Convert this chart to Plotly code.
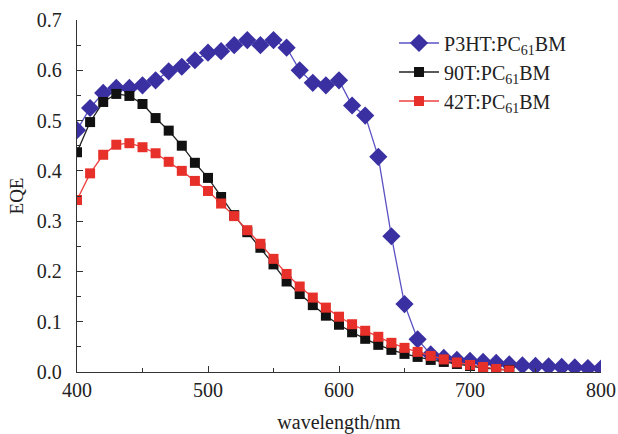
import plotly.graph_objects as go

wl_p3ht = list(range(400, 801, 10))
eqe_p3ht = [0.481, 0.525, 0.555, 0.565, 0.565, 0.57, 0.58, 0.598, 0.607, 0.62, 0.635,
            0.638, 0.65, 0.66, 0.65, 0.66, 0.645, 0.60, 0.575, 0.57, 0.58, 0.53, 0.51,
            0.428, 0.27, 0.135, 0.065, 0.035, 0.028, 0.024, 0.022, 0.02, 0.018, 0.015,
            0.013, 0.012, 0.011, 0.01, 0.009, 0.008, 0.007]

wl_90t = list(range(400, 731, 10))
eqe_90t = [0.437, 0.497, 0.537, 0.553, 0.549, 0.533, 0.505, 0.48, 0.45, 0.416, 0.386,
           0.348, 0.312, 0.278, 0.247, 0.214, 0.18, 0.155, 0.133, 0.112, 0.094, 0.079,
           0.066, 0.054, 0.044, 0.036, 0.03, 0.024, 0.02, 0.016, 0.012, 0.008, 0.006, 0.004]

wl_42t = list(range(400, 731, 10))
eqe_42t = [0.342, 0.395, 0.432, 0.452, 0.455, 0.447, 0.435, 0.418, 0.40, 0.38, 0.36,
           0.335, 0.31, 0.282, 0.255, 0.225, 0.195, 0.17, 0.148, 0.128, 0.11, 0.095,
           0.082, 0.07, 0.058, 0.048, 0.04, 0.032, 0.025, 0.019, 0.014, 0.01, 0.006, 0.003]

names = ["P3HT:PC<sub>61</sub>BM", "90T:PC<sub>61</sub>BM", "42T:PC<sub>61</sub>BM"]

fig = go.Figure()
fig.add_trace(go.Scatter(x=wl_p3ht, y=eqe_p3ht, name=names[0], mode="lines+markers",
                         line=dict(color="#5a52c4", width=1.3),
                         marker=dict(symbol="diamond", size=14, color="#3a30a2")))
fig.add_trace(go.Scatter(x=wl_90t, y=eqe_90t, name=names[1], mode="lines+markers",
                         line=dict(color="#222222", width=1.3),
                         marker=dict(symbol="square", size=10, color="#111111")))
fig.add_trace(go.Scatter(x=wl_42t, y=eqe_42t, name=names[2], mode="lines+markers",
                         line=dict(color="#ee4040", width=1.3),
                         marker=dict(symbol="square", size=10, color="#e8302a")))

font = "Liberation Serif"
fig.update_layout(
    width=618, height=434,
    margin=dict(l=77, r=17, t=20, b=62),
    paper_bgcolor="white", plot_bgcolor="white",
    font=dict(family=font, size=20, color="#222"),
    legend=dict(x=0.605, y=0.99, xanchor="left", yanchor="top",
                bgcolor="rgba(0,0,0,0)", font=dict(family=font, size=20, color="#222"),
                tracegroupgap=0, itemwidth=40),
    showlegend=True,
)
fig.update_xaxes(range=[400, 800], tickvals=[400, 500, 600, 700, 800],
                 ticks="inside", ticklen=6, tickcolor="#333", showline=True,
                 linecolor="#333", linewidth=1.3, showgrid=False, zeroline=False,
                 automargin=False,
                 minor=dict(tickvals=[450, 550, 650, 750], ticks="inside", ticklen=4, tickcolor="#333"),
                 title=dict(text="wavelength/nm", font=dict(family=font, size=20), standoff=14),
                 tickfont=dict(family=font, size=20, color="#222"))
fig.update_yaxes(range=[0, 0.7], tickvals=[0, 0.1, 0.2, 0.3, 0.4, 0.5, 0.6, 0.7],
                 tickformat=".1f", ticks="inside", ticklen=6, tickcolor="#333",
                 showline=True, linecolor="#333", linewidth=1.3, showgrid=False,
                 zeroline=False, automargin=False, ticklabelstandoff=10,
                 minor=dict(tickvals=[0.05, 0.15, 0.25, 0.35, 0.45, 0.55, 0.65],
                            ticks="inside", ticklen=4, tickcolor="#333"),
                 title=dict(text="EQE", font=dict(family=font, size=19), standoff=8),
                 tickfont=dict(family=font, size=20, color="#222"))

fig.write_html("out.html")
